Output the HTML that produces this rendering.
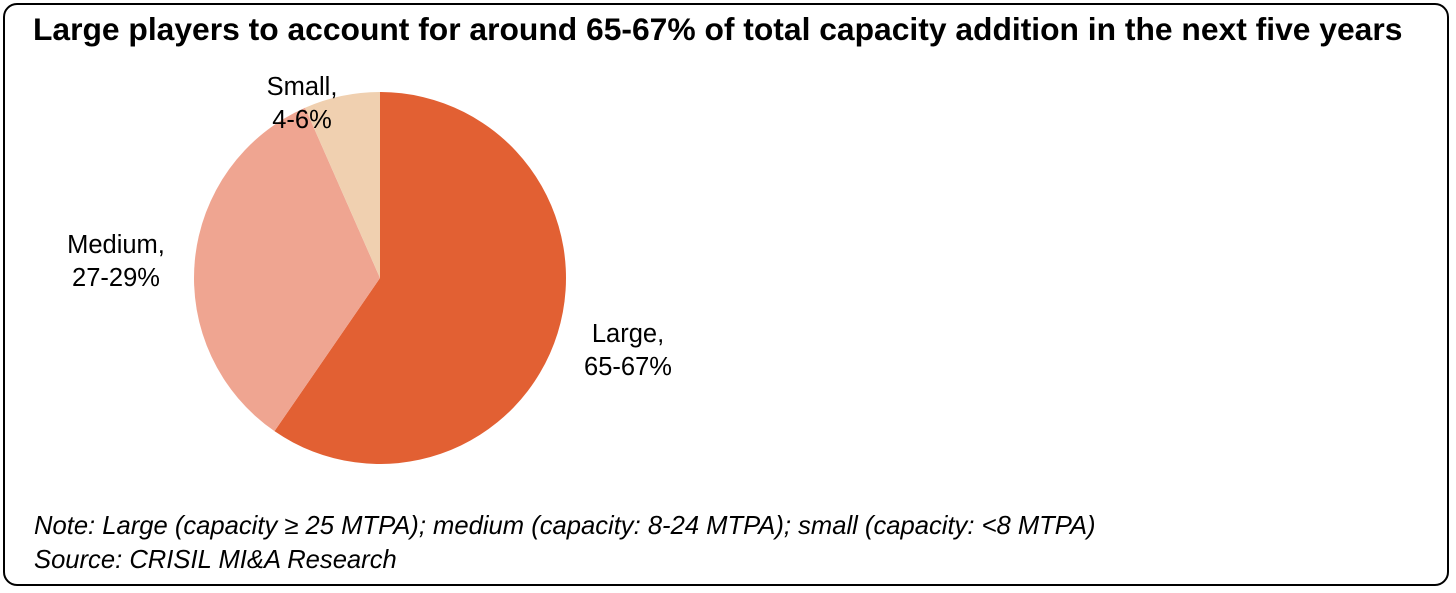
<!DOCTYPE html>
<html><head><meta charset="utf-8"><style>
body{margin:0;background:#fff;width:1456px;height:593px;overflow:hidden;font-family:"Liberation Sans",Arial,sans-serif;}
.frame{position:absolute;left:3px;top:3px;width:1446px;height:583px;border:2px solid #000;border-radius:14px;box-sizing:border-box;}
.title{position:absolute;left:33px;top:11px;font-size:31.8px;font-weight:bold;color:#000;white-space:nowrap;}
.note{position:absolute;left:34px;font-size:25.6px;font-style:italic;color:#000;white-space:nowrap;}
</style></head><body>
<div class="frame"></div>
<div class="title">Large players to account for around 65-67% of total capacity addition in the next five years</div>
<svg id="pie" width="1456" height="593" style="position:absolute;left:0;top:0"></svg>
<div class="note" style="top:512px">Note: Large (capacity ≥ 25 MTPA); medium (capacity: 8-24 MTPA); small (capacity: &lt;8 MTPA)</div>
<div class="note" style="top:546px">Source: CRISIL MI&amp;A Research</div>
<script>
const categories=["Large","Medium","Small"];
const shares=[59.6,33.8,6.6];
const labels=["Large,\n65-67%","Medium,\n27-29%","Small,\n4-6%"];
const colors=["#E26033","#EFA591","#F0D0B0"];
const svg=document.getElementById('pie');
const NS="http://www.w3.org/2000/svg";
const cx=380,cy=278,r=186;
const total=shares.reduce((a,b)=>a+b,0);
const labelPos=[[628,342],[116,253],[302,95]];
let a0=0;
function pt(a,rr){return [cx+rr*Math.sin(a),cy-rr*Math.cos(a)];}
shares.forEach((v,i)=>{
  const a1=a0+v/total*2*Math.PI;
  const p0=pt(a0,r),p1=pt(a1,r);
  const large=(a1-a0)>Math.PI?1:0;
  const path=document.createElementNS(NS,'path');
  path.setAttribute('d',`M${cx},${cy}L${p0[0]},${p0[1]}A${r},${r} 0 ${large} 1 ${p1[0]},${p1[1]}Z`);
  path.setAttribute('fill',colors[i]);
  
  
  svg.appendChild(path);
  const t=document.createElementNS(NS,'text');
  t.setAttribute('text-anchor','middle');
  t.setAttribute('font-size','25.5');
  t.setAttribute('font-family','Liberation Sans, Arial, sans-serif');
  
  
  labels[i].split('\n').forEach((line,j)=>{
    const ts=document.createElementNS(NS,'tspan');
    ts.setAttribute('x',labelPos[i][0]);
    ts.setAttribute('y',labelPos[i][1]+j*33);
    ts.textContent=line;
    t.appendChild(ts);
  });
  svg.appendChild(t);
  a0=a1;
});
</script>
</body></html>
